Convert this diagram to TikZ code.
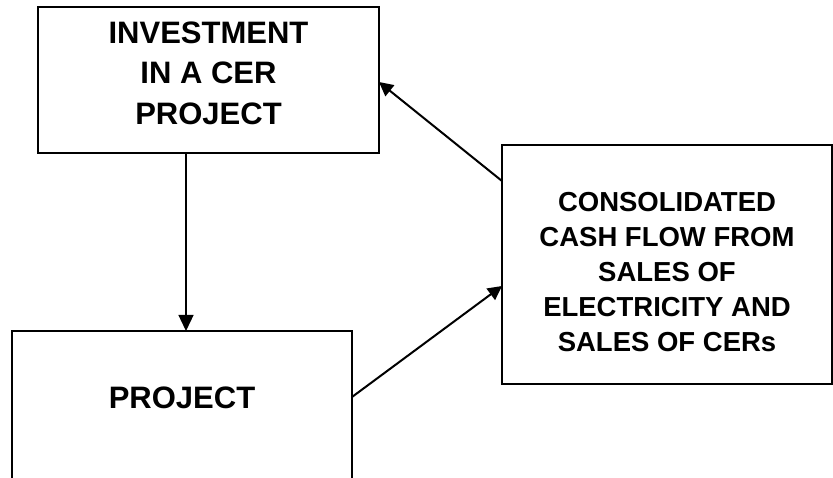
\documentclass[tikz,border=0pt]{standalone}
\usepackage{fontspec}
\setmainfont{Liberation Sans}
\usetikzlibrary{arrows.meta}
\begin{document}
\begin{tikzpicture}[x=1pt,y=-1pt,
  boxframe/.style={draw=black, line width=1.2pt, inner sep=0pt, outer sep=0pt},
  openframe/.style={inner sep=0pt, outer sep=0pt},
  bigtxt/.style={font=\fontsize{31}{41}\selectfont\bfseries, anchor=base, inner sep=0pt},
  midtxt/.style={font=\fontsize{27.5}{35}\selectfont\bfseries, anchor=base, inner sep=0pt},
  thinarrow/.style={line width=1.3pt, -{Triangle[length=16pt,width=15pt]}},
  thickarrow/.style={line width=2pt, -{Triangle[length=14pt,width=14pt]}}]
\useasboundingbox (0,0) rectangle (833,478);
\fill[white] (0,0) rectangle (833,478);

% top box
\node[boxframe, minimum width=341pt, minimum height=146pt] (top) at (208.5,80) {};
\node[bigtxt] (t1) at (208.5,43.3) {INVESTMENT};
\node[bigtxt] (t2) at (208.5,84) {IN A CER};
\node[bigtxt] (t3) at (208.5,125) {PROJECT};

% bottom box (open at the bottom edge of the picture)
\node[openframe, minimum width=340pt, minimum height=147pt] (bot) at (182,404.5) {};
\draw[line width=1.2pt] (bot.south west) -- (bot.north west) -- (bot.north east) -- (bot.south east);
\node[bigtxt] (b1) at (182,408.3) {PROJECT};

% right box
\node[boxframe, minimum width=330pt, minimum height=239pt] (rgt) at (667,264.5) {};
\node[midtxt] (r1) at (667,212) {CONSOLIDATED};
\node[midtxt] (r2) at (667,247) {CASH FLOW FROM};
\node[midtxt] (r3) at (667,282) {SALES OF};
\node[midtxt] (r4) at (667,317) {ELECTRICITY AND};
\node[midtxt] (r5) at (667,352) {SALES OF CERs};

% connectors
\draw[thinarrow] ([xshift=-22.5pt]top.south) -- ([xshift=4pt]bot.north);
\draw[thickarrow] ([yshift=83.5pt]rgt.west) -- ([yshift=-2pt]top.east);
\draw[thickarrow] ([yshift=7.5pt]bot.east) -- ([yshift=-21.5pt]rgt.west);
\end{tikzpicture}
\end{document}
